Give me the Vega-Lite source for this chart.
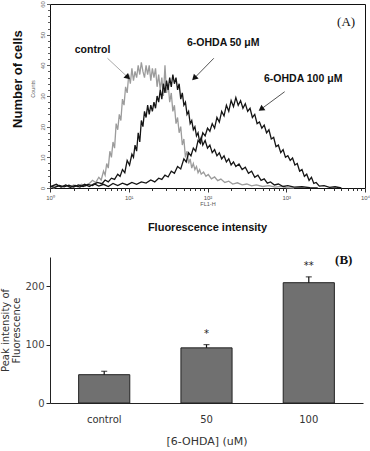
{
  "$schema": "https://vega.github.io/schema/vega-lite/v6.json",
  "padding": {"left": 0, "top": 0, "right": 0, "bottom": 5},
  "spacing": 20,
  "config": {"view": {"stroke": null}, "font": "Liberation Sans"},
  "datasets": {
    "hist": [
      {"sample": "control", "log_fl1h": 0.00, "count": 0.5},
      {"sample": "control", "log_fl1h": 0.05, "count": 0},
      {"sample": "control", "log_fl1h": 0.10, "count": 0.8},
      {"sample": "control", "log_fl1h": 0.15, "count": 0.3},
      {"sample": "control", "log_fl1h": 0.20, "count": 0.9},
      {"sample": "control", "log_fl1h": 0.25, "count": 0.2},
      {"sample": "control", "log_fl1h": 0.30, "count": 1.0},
      {"sample": "control", "log_fl1h": 0.35, "count": 0.4},
      {"sample": "control", "log_fl1h": 0.40, "count": 1.2},
      {"sample": "control", "log_fl1h": 0.45, "count": 0.6},
      {"sample": "control", "log_fl1h": 0.50, "count": 1.5},
      {"sample": "control", "log_fl1h": 0.54, "count": 2.5},
      {"sample": "control", "log_fl1h": 0.58, "count": 1.8},
      {"sample": "control", "log_fl1h": 0.62, "count": 3.5},
      {"sample": "control", "log_fl1h": 0.65, "count": 2.6},
      {"sample": "control", "log_fl1h": 0.68, "count": 5.5},
      {"sample": "control", "log_fl1h": 0.70, "count": 4.2},
      {"sample": "control", "log_fl1h": 0.72, "count": 8},
      {"sample": "control", "log_fl1h": 0.74, "count": 6.5},
      {"sample": "control", "log_fl1h": 0.76, "count": 12},
      {"sample": "control", "log_fl1h": 0.78, "count": 10},
      {"sample": "control", "log_fl1h": 0.80, "count": 15},
      {"sample": "control", "log_fl1h": 0.82, "count": 13},
      {"sample": "control", "log_fl1h": 0.84, "count": 21},
      {"sample": "control", "log_fl1h": 0.86, "count": 19},
      {"sample": "control", "log_fl1h": 0.88, "count": 24},
      {"sample": "control", "log_fl1h": 0.90, "count": 22},
      {"sample": "control", "log_fl1h": 0.92, "count": 29},
      {"sample": "control", "log_fl1h": 0.94, "count": 27},
      {"sample": "control", "log_fl1h": 0.96, "count": 33},
      {"sample": "control", "log_fl1h": 0.98, "count": 31},
      {"sample": "control", "log_fl1h": 1.00, "count": 37},
      {"sample": "control", "log_fl1h": 1.02, "count": 34},
      {"sample": "control", "log_fl1h": 1.04, "count": 39},
      {"sample": "control", "log_fl1h": 1.06, "count": 35},
      {"sample": "control", "log_fl1h": 1.08, "count": 38},
      {"sample": "control", "log_fl1h": 1.10, "count": 36},
      {"sample": "control", "log_fl1h": 1.12, "count": 40},
      {"sample": "control", "log_fl1h": 1.14, "count": 37},
      {"sample": "control", "log_fl1h": 1.16, "count": 41},
      {"sample": "control", "log_fl1h": 1.18, "count": 38},
      {"sample": "control", "log_fl1h": 1.20, "count": 36},
      {"sample": "control", "log_fl1h": 1.22, "count": 40},
      {"sample": "control", "log_fl1h": 1.24, "count": 37},
      {"sample": "control", "log_fl1h": 1.26, "count": 40},
      {"sample": "control", "log_fl1h": 1.28, "count": 35},
      {"sample": "control", "log_fl1h": 1.30, "count": 39},
      {"sample": "control", "log_fl1h": 1.32, "count": 36},
      {"sample": "control", "log_fl1h": 1.34, "count": 39},
      {"sample": "control", "log_fl1h": 1.36, "count": 33},
      {"sample": "control", "log_fl1h": 1.38, "count": 37},
      {"sample": "control", "log_fl1h": 1.40, "count": 32},
      {"sample": "control", "log_fl1h": 1.42, "count": 36},
      {"sample": "control", "log_fl1h": 1.44, "count": 30},
      {"sample": "control", "log_fl1h": 1.46, "count": 40},
      {"sample": "control", "log_fl1h": 1.48, "count": 31},
      {"sample": "control", "log_fl1h": 1.50, "count": 34},
      {"sample": "control", "log_fl1h": 1.52, "count": 28},
      {"sample": "control", "log_fl1h": 1.54, "count": 31},
      {"sample": "control", "log_fl1h": 1.56, "count": 25},
      {"sample": "control", "log_fl1h": 1.58, "count": 27},
      {"sample": "control", "log_fl1h": 1.60, "count": 21},
      {"sample": "control", "log_fl1h": 1.62, "count": 23},
      {"sample": "control", "log_fl1h": 1.64, "count": 18},
      {"sample": "control", "log_fl1h": 1.66, "count": 20},
      {"sample": "control", "log_fl1h": 1.68, "count": 14},
      {"sample": "control", "log_fl1h": 1.70, "count": 16},
      {"sample": "control", "log_fl1h": 1.72, "count": 10},
      {"sample": "control", "log_fl1h": 1.74, "count": 12},
      {"sample": "control", "log_fl1h": 1.76, "count": 8},
      {"sample": "control", "log_fl1h": 1.78, "count": 9.5},
      {"sample": "control", "log_fl1h": 1.80, "count": 6.5},
      {"sample": "control", "log_fl1h": 1.82, "count": 8},
      {"sample": "control", "log_fl1h": 1.84, "count": 6},
      {"sample": "control", "log_fl1h": 1.86, "count": 7},
      {"sample": "control", "log_fl1h": 1.88, "count": 5},
      {"sample": "control", "log_fl1h": 1.90, "count": 6},
      {"sample": "control", "log_fl1h": 1.92, "count": 4.5},
      {"sample": "control", "log_fl1h": 1.95, "count": 5.2},
      {"sample": "control", "log_fl1h": 1.98, "count": 3.8},
      {"sample": "control", "log_fl1h": 2.01, "count": 4.4},
      {"sample": "control", "log_fl1h": 2.05, "count": 3},
      {"sample": "control", "log_fl1h": 2.09, "count": 3.6},
      {"sample": "control", "log_fl1h": 2.13, "count": 2.4},
      {"sample": "control", "log_fl1h": 2.17, "count": 2.9},
      {"sample": "control", "log_fl1h": 2.22, "count": 1.8},
      {"sample": "control", "log_fl1h": 2.27, "count": 2.2},
      {"sample": "control", "log_fl1h": 2.32, "count": 1.3},
      {"sample": "control", "log_fl1h": 2.38, "count": 1.7},
      {"sample": "control", "log_fl1h": 2.44, "count": 1.0},
      {"sample": "control", "log_fl1h": 2.50, "count": 1.3},
      {"sample": "control", "log_fl1h": 2.56, "count": 0.7},
      {"sample": "control", "log_fl1h": 2.62, "count": 1.0},
      {"sample": "control", "log_fl1h": 2.70, "count": 0.5},
      {"sample": "control", "log_fl1h": 2.78, "count": 0.8},
      {"sample": "control", "log_fl1h": 2.86, "count": 0.3},
      {"sample": "control", "log_fl1h": 2.94, "count": 0.5},
      {"sample": "control", "log_fl1h": 3.00, "count": 0.1},
      {"sample": "control", "log_fl1h": 3.10, "count": 0},
      {"sample": "50 μM", "log_fl1h": 0.00, "count": 0.6},
      {"sample": "50 μM", "log_fl1h": 0.06, "count": 0.2},
      {"sample": "50 μM", "log_fl1h": 0.12, "count": 0.8},
      {"sample": "50 μM", "log_fl1h": 0.18, "count": 0.4},
      {"sample": "50 μM", "log_fl1h": 0.24, "count": 0.9},
      {"sample": "50 μM", "log_fl1h": 0.30, "count": 0.3},
      {"sample": "50 μM", "log_fl1h": 0.36, "count": 1.0},
      {"sample": "50 μM", "log_fl1h": 0.42, "count": 0.5},
      {"sample": "50 μM", "log_fl1h": 0.48, "count": 1.2},
      {"sample": "50 μM", "log_fl1h": 0.54, "count": 0.8},
      {"sample": "50 μM", "log_fl1h": 0.60, "count": 1.8},
      {"sample": "50 μM", "log_fl1h": 0.66, "count": 1.4},
      {"sample": "50 μM", "log_fl1h": 0.70, "count": 2.6},
      {"sample": "50 μM", "log_fl1h": 0.74, "count": 2.0},
      {"sample": "50 μM", "log_fl1h": 0.78, "count": 3.2},
      {"sample": "50 μM", "log_fl1h": 0.82, "count": 2.8},
      {"sample": "50 μM", "log_fl1h": 0.86, "count": 4.5},
      {"sample": "50 μM", "log_fl1h": 0.89, "count": 3.8},
      {"sample": "50 μM", "log_fl1h": 0.92, "count": 6},
      {"sample": "50 μM", "log_fl1h": 0.95, "count": 5},
      {"sample": "50 μM", "log_fl1h": 0.98, "count": 9},
      {"sample": "50 μM", "log_fl1h": 1.01, "count": 7.5},
      {"sample": "50 μM", "log_fl1h": 1.04, "count": 11},
      {"sample": "50 μM", "log_fl1h": 1.06, "count": 10},
      {"sample": "50 μM", "log_fl1h": 1.08, "count": 14},
      {"sample": "50 μM", "log_fl1h": 1.10, "count": 12},
      {"sample": "50 μM", "log_fl1h": 1.12, "count": 18},
      {"sample": "50 μM", "log_fl1h": 1.14, "count": 15},
      {"sample": "50 μM", "log_fl1h": 1.16, "count": 22},
      {"sample": "50 μM", "log_fl1h": 1.18, "count": 20},
      {"sample": "50 μM", "log_fl1h": 1.20, "count": 25},
      {"sample": "50 μM", "log_fl1h": 1.22, "count": 23},
      {"sample": "50 μM", "log_fl1h": 1.24, "count": 27},
      {"sample": "50 μM", "log_fl1h": 1.26, "count": 24},
      {"sample": "50 μM", "log_fl1h": 1.28, "count": 27},
      {"sample": "50 μM", "log_fl1h": 1.30, "count": 25},
      {"sample": "50 μM", "log_fl1h": 1.32, "count": 28},
      {"sample": "50 μM", "log_fl1h": 1.34, "count": 26},
      {"sample": "50 μM", "log_fl1h": 1.36, "count": 30},
      {"sample": "50 μM", "log_fl1h": 1.38, "count": 28},
      {"sample": "50 μM", "log_fl1h": 1.40, "count": 32},
      {"sample": "50 μM", "log_fl1h": 1.42, "count": 29},
      {"sample": "50 μM", "log_fl1h": 1.44, "count": 34},
      {"sample": "50 μM", "log_fl1h": 1.46, "count": 31},
      {"sample": "50 μM", "log_fl1h": 1.48, "count": 35},
      {"sample": "50 μM", "log_fl1h": 1.50, "count": 32},
      {"sample": "50 μM", "log_fl1h": 1.52, "count": 36},
      {"sample": "50 μM", "log_fl1h": 1.54, "count": 33},
      {"sample": "50 μM", "log_fl1h": 1.56, "count": 37},
      {"sample": "50 μM", "log_fl1h": 1.58, "count": 34},
      {"sample": "50 μM", "log_fl1h": 1.60, "count": 36},
      {"sample": "50 μM", "log_fl1h": 1.62, "count": 32},
      {"sample": "50 μM", "log_fl1h": 1.64, "count": 34},
      {"sample": "50 μM", "log_fl1h": 1.66, "count": 29},
      {"sample": "50 μM", "log_fl1h": 1.68, "count": 31},
      {"sample": "50 μM", "log_fl1h": 1.70, "count": 27},
      {"sample": "50 μM", "log_fl1h": 1.72, "count": 28},
      {"sample": "50 μM", "log_fl1h": 1.74, "count": 24},
      {"sample": "50 μM", "log_fl1h": 1.76, "count": 25},
      {"sample": "50 μM", "log_fl1h": 1.78, "count": 21},
      {"sample": "50 μM", "log_fl1h": 1.80, "count": 22},
      {"sample": "50 μM", "log_fl1h": 1.82, "count": 19},
      {"sample": "50 μM", "log_fl1h": 1.84, "count": 20},
      {"sample": "50 μM", "log_fl1h": 1.86, "count": 17},
      {"sample": "50 μM", "log_fl1h": 1.88, "count": 18},
      {"sample": "50 μM", "log_fl1h": 1.90, "count": 15},
      {"sample": "50 μM", "log_fl1h": 1.92, "count": 16.5},
      {"sample": "50 μM", "log_fl1h": 1.94, "count": 14},
      {"sample": "50 μM", "log_fl1h": 1.97, "count": 15.5},
      {"sample": "50 μM", "log_fl1h": 2.00, "count": 13},
      {"sample": "50 μM", "log_fl1h": 2.03, "count": 14},
      {"sample": "50 μM", "log_fl1h": 2.06, "count": 11.5},
      {"sample": "50 μM", "log_fl1h": 2.09, "count": 12.5},
      {"sample": "50 μM", "log_fl1h": 2.12, "count": 10.5},
      {"sample": "50 μM", "log_fl1h": 2.15, "count": 11.5},
      {"sample": "50 μM", "log_fl1h": 2.18, "count": 9.5},
      {"sample": "50 μM", "log_fl1h": 2.21, "count": 10.5},
      {"sample": "50 μM", "log_fl1h": 2.24, "count": 8.5},
      {"sample": "50 μM", "log_fl1h": 2.27, "count": 9.5},
      {"sample": "50 μM", "log_fl1h": 2.30, "count": 7.5},
      {"sample": "50 μM", "log_fl1h": 2.33, "count": 8.5},
      {"sample": "50 μM", "log_fl1h": 2.36, "count": 7},
      {"sample": "50 μM", "log_fl1h": 2.40, "count": 7.8},
      {"sample": "50 μM", "log_fl1h": 2.44, "count": 6},
      {"sample": "50 μM", "log_fl1h": 2.48, "count": 6.8},
      {"sample": "50 μM", "log_fl1h": 2.52, "count": 4.8},
      {"sample": "50 μM", "log_fl1h": 2.56, "count": 5.5},
      {"sample": "50 μM", "log_fl1h": 2.60, "count": 3.5},
      {"sample": "50 μM", "log_fl1h": 2.64, "count": 4.2},
      {"sample": "50 μM", "log_fl1h": 2.68, "count": 2.5},
      {"sample": "50 μM", "log_fl1h": 2.72, "count": 3},
      {"sample": "50 μM", "log_fl1h": 2.76, "count": 1.6},
      {"sample": "50 μM", "log_fl1h": 2.80, "count": 2},
      {"sample": "50 μM", "log_fl1h": 2.85, "count": 1},
      {"sample": "50 μM", "log_fl1h": 2.90, "count": 1.3},
      {"sample": "50 μM", "log_fl1h": 2.96, "count": 0.5},
      {"sample": "50 μM", "log_fl1h": 3.02, "count": 0.8},
      {"sample": "50 μM", "log_fl1h": 3.10, "count": 0.3},
      {"sample": "50 μM", "log_fl1h": 3.20, "count": 0.4},
      {"sample": "50 μM", "log_fl1h": 3.30, "count": 0.1},
      {"sample": "50 μM", "log_fl1h": 3.40, "count": 0},
      {"sample": "100 μM", "log_fl1h": 0.00, "count": 0.4},
      {"sample": "100 μM", "log_fl1h": 0.08, "count": 1.2},
      {"sample": "100 μM", "log_fl1h": 0.14, "count": 0.3},
      {"sample": "100 μM", "log_fl1h": 0.20, "count": 1.0},
      {"sample": "100 μM", "log_fl1h": 0.26, "count": 0.2},
      {"sample": "100 μM", "log_fl1h": 0.32, "count": 0.8},
      {"sample": "100 μM", "log_fl1h": 0.38, "count": 0.3},
      {"sample": "100 μM", "log_fl1h": 0.44, "count": 1.2},
      {"sample": "100 μM", "log_fl1h": 0.50, "count": 0.5},
      {"sample": "100 μM", "log_fl1h": 0.56, "count": 1.4},
      {"sample": "100 μM", "log_fl1h": 0.62, "count": 0.6},
      {"sample": "100 μM", "log_fl1h": 0.68, "count": 1.2},
      {"sample": "100 μM", "log_fl1h": 0.74, "count": 0.5},
      {"sample": "100 μM", "log_fl1h": 0.80, "count": 1.5},
      {"sample": "100 μM", "log_fl1h": 0.86, "count": 0.8},
      {"sample": "100 μM", "log_fl1h": 0.92, "count": 1.6},
      {"sample": "100 μM", "log_fl1h": 0.98, "count": 1.0},
      {"sample": "100 μM", "log_fl1h": 1.04, "count": 1.8},
      {"sample": "100 μM", "log_fl1h": 1.10, "count": 1.2},
      {"sample": "100 μM", "log_fl1h": 1.16, "count": 2.0},
      {"sample": "100 μM", "log_fl1h": 1.22, "count": 1.6},
      {"sample": "100 μM", "log_fl1h": 1.28, "count": 2.6},
      {"sample": "100 μM", "log_fl1h": 1.33, "count": 2.0},
      {"sample": "100 μM", "log_fl1h": 1.38, "count": 3.2},
      {"sample": "100 μM", "log_fl1h": 1.42, "count": 2.8},
      {"sample": "100 μM", "log_fl1h": 1.46, "count": 4.2},
      {"sample": "100 μM", "log_fl1h": 1.50, "count": 3.6},
      {"sample": "100 μM", "log_fl1h": 1.54, "count": 5.5},
      {"sample": "100 μM", "log_fl1h": 1.58, "count": 4.8},
      {"sample": "100 μM", "log_fl1h": 1.62, "count": 7},
      {"sample": "100 μM", "log_fl1h": 1.66, "count": 6.2},
      {"sample": "100 μM", "log_fl1h": 1.70, "count": 9.5},
      {"sample": "100 μM", "log_fl1h": 1.73, "count": 8.5},
      {"sample": "100 μM", "log_fl1h": 1.76, "count": 11.5},
      {"sample": "100 μM", "log_fl1h": 1.79, "count": 10.5},
      {"sample": "100 μM", "log_fl1h": 1.82, "count": 13},
      {"sample": "100 μM", "log_fl1h": 1.85, "count": 12},
      {"sample": "100 μM", "log_fl1h": 1.88, "count": 15.5},
      {"sample": "100 μM", "log_fl1h": 1.91, "count": 14.5},
      {"sample": "100 μM", "log_fl1h": 1.94, "count": 18},
      {"sample": "100 μM", "log_fl1h": 1.97, "count": 17},
      {"sample": "100 μM", "log_fl1h": 2.00, "count": 19.5},
      {"sample": "100 μM", "log_fl1h": 2.03, "count": 18.5},
      {"sample": "100 μM", "log_fl1h": 2.06, "count": 21},
      {"sample": "100 μM", "log_fl1h": 2.09, "count": 19.5},
      {"sample": "100 μM", "log_fl1h": 2.12, "count": 23},
      {"sample": "100 μM", "log_fl1h": 2.15, "count": 21.5},
      {"sample": "100 μM", "log_fl1h": 2.18, "count": 25},
      {"sample": "100 μM", "log_fl1h": 2.21, "count": 23.5},
      {"sample": "100 μM", "log_fl1h": 2.24, "count": 27},
      {"sample": "100 μM", "log_fl1h": 2.27, "count": 25},
      {"sample": "100 μM", "log_fl1h": 2.30, "count": 28.5},
      {"sample": "100 μM", "log_fl1h": 2.33, "count": 26.5},
      {"sample": "100 μM", "log_fl1h": 2.36, "count": 29.5},
      {"sample": "100 μM", "log_fl1h": 2.39, "count": 27},
      {"sample": "100 μM", "log_fl1h": 2.42, "count": 28.5},
      {"sample": "100 μM", "log_fl1h": 2.45, "count": 26},
      {"sample": "100 μM", "log_fl1h": 2.48, "count": 27.5},
      {"sample": "100 μM", "log_fl1h": 2.51, "count": 25},
      {"sample": "100 μM", "log_fl1h": 2.54, "count": 26},
      {"sample": "100 μM", "log_fl1h": 2.57, "count": 23},
      {"sample": "100 μM", "log_fl1h": 2.60, "count": 24},
      {"sample": "100 μM", "log_fl1h": 2.63, "count": 21},
      {"sample": "100 μM", "log_fl1h": 2.66, "count": 21.5},
      {"sample": "100 μM", "log_fl1h": 2.69, "count": 19.5},
      {"sample": "100 μM", "log_fl1h": 2.72, "count": 20.5},
      {"sample": "100 μM", "log_fl1h": 2.75, "count": 18},
      {"sample": "100 μM", "log_fl1h": 2.78, "count": 19},
      {"sample": "100 μM", "log_fl1h": 2.81, "count": 16},
      {"sample": "100 μM", "log_fl1h": 2.84, "count": 16.5},
      {"sample": "100 μM", "log_fl1h": 2.87, "count": 13.5},
      {"sample": "100 μM", "log_fl1h": 2.90, "count": 14},
      {"sample": "100 μM", "log_fl1h": 2.93, "count": 11.5},
      {"sample": "100 μM", "log_fl1h": 2.96, "count": 12.5},
      {"sample": "100 μM", "log_fl1h": 2.99, "count": 10},
      {"sample": "100 μM", "log_fl1h": 3.02, "count": 10.5},
      {"sample": "100 μM", "log_fl1h": 3.05, "count": 9},
      {"sample": "100 μM", "log_fl1h": 3.08, "count": 9.8},
      {"sample": "100 μM", "log_fl1h": 3.11, "count": 7.5},
      {"sample": "100 μM", "log_fl1h": 3.14, "count": 8},
      {"sample": "100 μM", "log_fl1h": 3.17, "count": 5.5},
      {"sample": "100 μM", "log_fl1h": 3.20, "count": 6},
      {"sample": "100 μM", "log_fl1h": 3.23, "count": 3.8},
      {"sample": "100 μM", "log_fl1h": 3.26, "count": 4.5},
      {"sample": "100 μM", "log_fl1h": 3.29, "count": 2.5},
      {"sample": "100 μM", "log_fl1h": 3.32, "count": 3.5},
      {"sample": "100 μM", "log_fl1h": 3.35, "count": 1.5},
      {"sample": "100 μM", "log_fl1h": 3.38, "count": 1.8},
      {"sample": "100 μM", "log_fl1h": 3.42, "count": 0.6},
      {"sample": "100 μM", "log_fl1h": 3.48, "count": 0.8},
      {"sample": "100 μM", "log_fl1h": 3.55, "count": 0.2},
      {"sample": "100 μM", "log_fl1h": 3.62, "count": 0.4},
      {"sample": "100 μM", "log_fl1h": 3.70, "count": 0}
    ],
    "arrows": [
      {"target": "control", "x1": 0.73, "y1": 42.3, "x2": 0.98, "y2": 36.3, "angle": 133},
      {"target": "50 μM", "x1": 2.08, "y1": 42.3, "x2": 1.84, "y2": 36.0, "angle": 225},
      {"target": "100 μM", "x1": 2.98, "y1": 31.4, "x2": 2.69, "y2": 25.9, "angle": 234}
    ],
    "notes": [
      {"label": "control", "x": 0.54, "y": 45.0},
      {"label": "6-OHDA 50 μM", "x": 2.2, "y": 47.2},
      {"label": "6-OHDA 100 μM", "x": 3.215, "y": 35.7}
    ],
    "bars": [
      {"dose": "control", "mean": 48.5, "upper": 54.3, "sig": ""},
      {"dose": "50", "mean": 94.4, "upper": 100, "sig": "*"},
      {"dose": "100", "mean": 206, "upper": 216, "sig": "**"}
    ]
  },
  "vconcat": [
    {
      "width": 315,
      "height": 184,
      "view": {"stroke": "#111", "strokeWidth": 1},
      "title": {"text": "Fluorescence intensity", "orient": "bottom", "fontSize": 11, "fontWeight": "bold", "font": "Liberation Sans", "color": "#111", "offset": 15},
      "resolve": {"axis": {"x": "independent", "y": "independent"}},
      "layer": [
        {
          "data": {"name": "hist"},
          "mark": {"type": "line", "strokeWidth": 1.3, "interpolate": "linear"},
          "encoding": {
            "x": {"field": "log_fl1h", "type": "quantitative", "scale": {"domain": [0, 4], "nice": false, "zero": false},
              "axis": {"orient": "bottom", "values": [0, 1, 2, 3, 4], "labelExpr": "'10' + ['⁰','¹','²','³','⁴'][datum.value]", "labelFontSize": 6, "labelColor": "#555", "tickSize": 4, "tickColor": "#333", "labelPadding": 2, "labelFlush": false, "labelOverlap": false, "domain": false, "grid": false, "title": "FL1-H", "titleFontSize": 5.5, "titleFontWeight": "normal", "titleColor": "#555", "titlePadding": 1}},
            "y": {"field": "count", "type": "quantitative", "scale": {"domain": [0, 60], "nice": false},
              "axis": {"orient": "left", "values": [0, 10, 20, 30, 40, 50, 60], "labelOverlap": false, "labelFlush": false, "labelBound": false, "labelAngle": 270, "labelAlign": "center", "labelBaseline": "bottom", "labelFontSize": 6, "labelColor": "#666", "tickSize": 3.5, "tickColor": "#333", "tickWidth": 0.8, "labelPadding": 1, "domain": false, "grid": false, "title": null}},
            "color": {"field": "sample", "type": "nominal", "scale": {"domain": ["control", "50 μM", "100 μM"], "range": ["#9c9c9c", "#151515", "#151515"]}, "legend": null}
          }
        },
        {
          "data": {"name": "arrows"},
          "mark": {"type": "rule", "strokeWidth": 1},
          "encoding": {
            "x": {"field": "x1", "type": "quantitative", "axis": {"orient": "bottom", "values": [0.301, 0.477, 0.602, 0.699, 0.778, 0.845, 0.903, 0.954, 1.301, 1.477, 1.602, 1.699, 1.778, 1.845, 1.903, 1.954, 2.301, 2.477, 2.602, 2.699, 2.778, 2.845, 2.903, 2.954, 3.301, 3.477, 3.602, 3.699, 3.778, 3.845, 3.903, 3.954], "labels": false, "tickSize": 2.5, "tickColor": "#333", "domain": false, "grid": false, "title": null}},
            "y": {"field": "y1", "type": "quantitative", "axis": {"orient": "left", "values": [2, 4, 6, 8, 12, 14, 16, 18, 22, 24, 26, 28, 32, 34, 36, 38, 42, 44, 46, 48, 52, 54, 56, 58], "labels": false, "tickSize": 2.5, "tickColor": "#333", "tickWidth": 0.8, "domain": false, "grid": false, "title": null}},
            "x2": {"field": "x2"},
            "y2": {"field": "y2"},
            "color": {"condition": {"test": "datum.target == 'control'", "value": "#aaaaaa"}, "value": "#555555"}
          }
        },
        {
          "data": {"name": "arrows"},
          "mark": {"type": "point", "shape": "triangle", "filled": true, "size": 45, "color": "#111", "opacity": 1},
          "encoding": {
            "x": {"field": "x2", "type": "quantitative", "axis": null},
            "y": {"field": "y2", "type": "quantitative", "axis": null},
            "angle": {"field": "angle", "type": "quantitative", "scale": null}
          }
        },
        {
          "data": {"name": "notes"},
          "mark": {"type": "text", "fontSize": 10.5, "fontWeight": "bold", "font": "Liberation Sans", "color": "#111", "align": "center", "baseline": "middle"},
          "encoding": {
            "x": {"field": "x", "type": "quantitative", "axis": null},
            "y": {"field": "y", "type": "quantitative", "axis": null},
            "text": {"field": "label"}
          }
        },
        {
          "data": {"values": [{"label": "(A)", "x": 3.76, "y": 54.1}]},
          "mark": {"type": "text", "fontSize": 13, "font": "Liberation Serif", "color": "#111", "align": "center", "baseline": "middle"},
          "encoding": {
            "x": {"field": "x", "type": "quantitative", "axis": null},
            "y": {"field": "y", "type": "quantitative", "axis": null},
            "text": {"field": "label"}
          }
        },
        {
          "data": {"values": [{"label": "Counts", "x": -0.215, "y": 32.3}]},
          "mark": {"type": "text", "fontSize": 5.5, "font": "Liberation Sans", "color": "#666", "align": "center", "baseline": "middle", "angle": 270},
          "encoding": {
            "x": {"field": "x", "type": "quantitative", "axis": null},
            "y": {"field": "y", "type": "quantitative", "axis": null},
            "text": {"field": "label"}
          }
        },
        {
          "data": {"values": [{"label": "Number of cells", "x": -0.405, "y": 35.5}]},
          "mark": {"type": "text", "fontSize": 13, "fontWeight": "bold", "font": "Liberation Sans", "color": "#111", "align": "center", "baseline": "middle", "angle": 270},
          "encoding": {
            "x": {"field": "x", "type": "quantitative", "axis": null},
            "y": {"field": "y", "type": "quantitative", "axis": null},
            "text": {"field": "label"}
          }
        }
      ]
    },
    {
      "width": 313,
      "height": 146,
      "data": {"name": "bars"},
      "encoding": {
        "x": {"field": "dose", "type": "nominal", "sort": ["control", "50", "100"], "scale": {"paddingInner": 0.5, "paddingOuter": 0.28},
          "axis": {"labelAngle": 0, "labelFontSize": 10, "labelColor": "#333", "labelFont": "DejaVu Sans", "ticks": false, "labelPadding": 11, "domainColor": "#222", "title": "[6-OHDA] (uM)", "titleFont": "DejaVu Sans", "titleFontSize": 11, "titleFontWeight": "normal", "titleColor": "#333", "titlePadding": 11}}
      },
      "layer": [
        {
          "mark": {"type": "bar", "fill": "#707070", "stroke": "#222", "strokeWidth": 1},
          "encoding": {
            "y": {"field": "mean", "type": "quantitative", "scale": {"domain": [0, 250], "nice": false},
              "axis": {"values": [0, 50, 100, 150, 200, 250], "labelFontSize": 10, "labelColor": "#444", "labelFont": "DejaVu Sans", "tickSize": 4, "tickColor": "#222", "domainColor": "#222", "labelPadding": 2, "grid": false, "title": ["Peak intensity of", "Fluorescence"], "titleFont": "DejaVu Sans", "titleFontSize": 10, "titleFontWeight": "normal", "titleColor": "#333", "titlePadding": 3, "titleLineHeight": 11}}
          }
        },
        {
          "mark": {"type": "rule", "color": "#111", "strokeWidth": 1.2},
          "encoding": {"y": {"field": "mean", "type": "quantitative"}, "y2": {"field": "upper"}}
        },
        {
          "mark": {"type": "tick", "color": "#111", "thickness": 1.2, "size": 6},
          "encoding": {"y": {"field": "upper", "type": "quantitative"}}
        },
        {
          "mark": {"type": "text", "fontSize": 10, "font": "DejaVu Sans", "color": "#222", "baseline": "middle", "dy": -11},
          "encoding": {"y": {"field": "upper", "type": "quantitative"}, "text": {"field": "sig"}}
        },
        {
          "data": {"values": [{"dose": "100", "label": "(B)", "y": 245}]},
          "mark": {"type": "text", "fontSize": 13, "fontWeight": "bold", "font": "Liberation Serif", "color": "#111", "baseline": "middle", "dx": 35},
          "encoding": {"y": {"field": "y", "type": "quantitative"}, "text": {"field": "label"}}
        }
      ]
    }
  ]
}
